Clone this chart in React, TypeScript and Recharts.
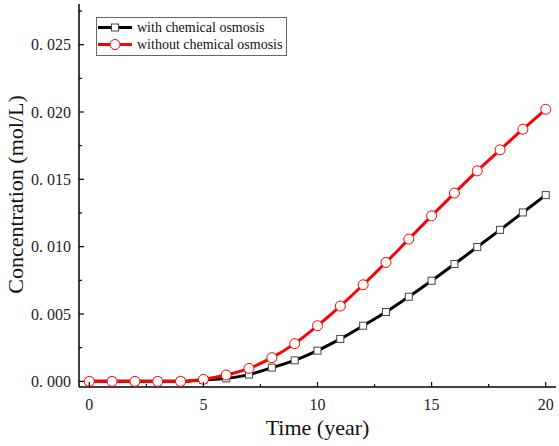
import { LineChart, Line, XAxis, YAxis, Legend, Label } from 'recharts';

const years = [0, 1, 2, 3, 4, 5, 6, 7, 8, 9, 10, 11, 12, 13, 14, 15, 16, 17, 18, 19, 20];
const withOsmosis = [
  0, 0, 0, 0, 0, 0.0001, 0.00022, 0.0005, 0.00102, 0.00156, 0.00228, 0.00315, 0.00413,
  0.00515, 0.00628, 0.00747, 0.00871, 0.00997, 0.01125, 0.01254, 0.01383,
];
const withoutOsmosis = [
  0, 0, 0, 0, 0, 0.00015, 0.00047, 0.00096, 0.00176, 0.0028, 0.00413, 0.00559, 0.00717,
  0.00883, 0.01056, 0.01229, 0.01398, 0.01563, 0.01719, 0.01872, 0.0202,
];
const xTicks = [0, 2.5, 5, 7.5, 10, 12.5, 15, 17.5, 20];
const yTicks = [0, 0.0025, 0.005, 0.0075, 0.01, 0.0125, 0.015, 0.0175, 0.02, 0.0225, 0.025, 0.0275];

const data = years.map((t, i) => ({ t, a: withOsmosis[i], b: withoutOsmosis[i] }));

const FONT = '"Liberation Serif", "Times New Roman", serif';
const AXIS = '#000';

const isMajorX = (v: number) => v % 5 === 0;
const isMajorY = (v: number) => Math.round(v * 10000) % 50 === 0;

const fmtY = (v: number) => v.toFixed(3).replace('.', '. ');

const tickText = { fontFamily: FONT, fontSize: 16, fill: '#222' };

const XTick = (props: any) => {
  const { x, y, payload, side } = props;
  const major = isMajorX(payload.value);
  const len = major ? 5 : 3;
  const dir = side === 'bottom' ? -1 : 1;
  return (
    <g>
      <line x1={x} x2={x} y1={y} y2={y + dir * len} stroke={AXIS} strokeWidth={1.2} />
      {side === 'bottom' && major && (
        <text x={x} y={y + 23} textAnchor="middle" style={tickText}>
          {payload.value}
        </text>
      )}
    </g>
  );
};

const YTick = (props: any) => {
  const { x, y, payload, side } = props;
  const major = isMajorY(payload.value);
  const len = major ? 5 : 3;
  const dir = side === 'left' ? 1 : -1;
  return (
    <g>
      <line x1={x} x2={x + dir * len} y1={y} y2={y} stroke={AXIS} strokeWidth={1.2} />
      {side === 'left' && major && (
        <text x={x - 8} y={y} dy="0.35em" textAnchor="end" style={tickText}>
          {fmtY(payload.value)}
        </text>
      )}
    </g>
  );
};

const SquareDot = (props: any) => {
  const { cx, cy, index } = props;
  return (
    <rect key={`sq-${index}`} x={cx - 3.5} y={cy - 3.5} width={7} height={7} fill="#fff" stroke="#444" strokeWidth={1} />
  );
};

const LegendBox = () => (
  <div
    style={{
      border: '1px solid #666',
      background: '#fff',
      padding: '1px 4px 2px 1px',
      fontFamily: FONT,
      fontSize: 14,
      color: '#111',
      lineHeight: '17px',
    }}
  >
    <div style={{ display: 'flex', alignItems: 'center' }}>
      <svg width={34} height={17} style={{ marginRight: 5 }}>
        <line x1={0} x2={34} y1={8.5} y2={8.5} stroke="#000" strokeWidth={3} />
        <rect x={13.5} y={5} width={7} height={7} fill="#fff" stroke="#444" strokeWidth={1} />
      </svg>
      <span>with chemical osmosis</span>
    </div>
    <div style={{ display: 'flex', alignItems: 'center' }}>
      <svg width={34} height={17} style={{ marginRight: 5 }}>
        <line x1={0} x2={34} y1={8.5} y2={8.5} stroke="#ff0000" strokeWidth={3} />
        <circle cx={17} cy={8.5} r={5} fill="#fff" stroke="#ff0000" strokeWidth={1} />
      </svg>
      <span>without chemical osmosis</span>
    </div>
  </div>
);

export default function App() {
  return (
    <div style={{ position: 'absolute', left: 0, top: 0, width: 559, height: 446, background: '#fff' }}>
      <LineChart width={559} height={446} data={data} margin={{ top: 4, right: 3, bottom: 0, left: 0 }}>
        <XAxis
          dataKey="t"
          type="number"
          domain={[-0.45, 20.45]}
          ticks={xTicks}
          interval={0}
          height={59}
          tickSize={0}
          tickMargin={0}
          tickLine={false}
          axisLine={{ stroke: AXIS, strokeWidth: 1.5 }}
          tick={<XTick side="bottom" />}
          allowDataOverflow
        >
          <Label
            value="Time (year)"
            position="insideBottom"
            offset={11}
            style={{ fontFamily: FONT, fontSize: 22, fill: '#111' }}
          />
        </XAxis>
        <XAxis
          xAxisId="top"
          orientation="top"
          dataKey="t"
          type="number"
          domain={[-0.45, 20.45]}
          ticks={xTicks}
          interval={0}
          height={0}
          tickSize={0}
          tickMargin={0}
          tickLine={false}
          axisLine={{ stroke: AXIS, strokeWidth: 1.5 }}
          tick={<XTick side="top" />}
          allowDataOverflow
        />
        <YAxis
          type="number"
          domain={[-0.00042, 0.02802]}
          ticks={yTicks}
          interval={0}
          width={79}
          tickSize={0}
          tickMargin={0}
          tickLine={false}
          axisLine={{ stroke: AXIS, strokeWidth: 1.5 }}
          tick={<YTick side="left" />}
          allowDataOverflow
        >
          <Label
            content={(p: any) => {
              const vb = p.viewBox || { y: 4, height: 383 };
              const cy = vb.y + vb.height / 2 - 1;
              return (
                <text
                  x={23}
                  y={cy}
                  transform={`rotate(-90, 23, ${cy})`}
                  textAnchor="middle"
                  style={{ fontFamily: FONT, fontSize: 22, fill: '#111' }}
                >
                  Concentration (mol/L)
                </text>
              );
            }}
          />
        </YAxis>
        <YAxis
          yAxisId="right"
          orientation="right"
          type="number"
          domain={[-0.00042, 0.02802]}
          ticks={yTicks}
          interval={0}
          width={0}
          tickSize={0}
          tickMargin={0}
          tickLine={false}
          axisLine={{ stroke: AXIS, strokeWidth: 1.5 }}
          tick={<YTick side="right" />}
          allowDataOverflow
        />
        <Legend
          layout="vertical"
          align="center"
          verticalAlign="middle"
          content={() => <LegendBox />}
          wrapperStyle={{ left: 96, top: 17, width: 'auto', height: 'auto' }}
        />
        <Line
          type="monotone"
          dataKey="a"
          stroke="#000"
          strokeWidth={3}
          dot={SquareDot}
          activeDot={false}
          isAnimationActive={false}
        />
        <Line
          type="monotone"
          dataKey="b"
          stroke="#ff0000"
          strokeWidth={3}
          dot={{ r: 5, fill: '#fff', stroke: '#ff0000', strokeWidth: 1 }}
          activeDot={false}
          isAnimationActive={false}
        />
      </LineChart>
    </div>
  );
}
